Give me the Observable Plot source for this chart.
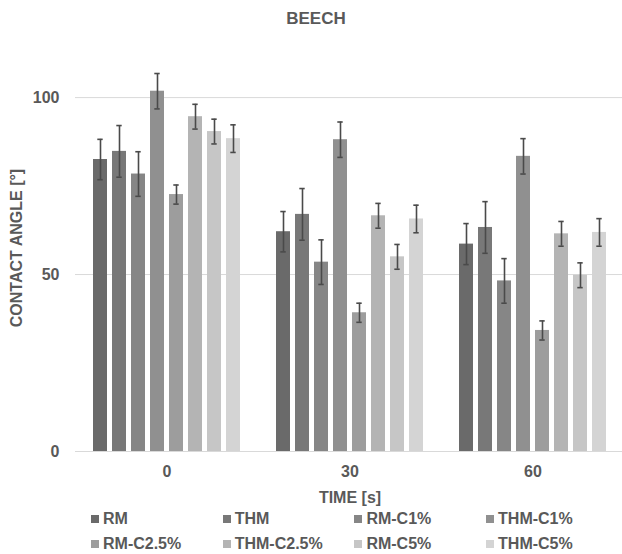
<!DOCTYPE html>
<html><head><meta charset="utf-8">
<script src="https://cdn.jsdelivr.net/npm/d3@7"></script>
<script src="https://cdn.jsdelivr.net/npm/@observablehq/plot@0.6"></script>
<style>
body{margin:0;background:#fff;font-family:"Liberation Sans",Arial,sans-serif;color:#595959;}
#wrap{position:relative;width:622px;height:554px;overflow:hidden;}
#title{height:38px;line-height:38px;font-size:17px;font-weight:bold;text-align:center;padding-left:10px;}
#chart svg{display:block;overflow:visible;}
#legend{position:absolute;left:91px;top:506px;display:grid;grid-template-columns:repeat(4,131.7px);}
.item{height:25px;line-height:25px;font-size:16px;font-weight:bold;white-space:nowrap;}
.sw{display:inline-block;width:8px;height:8px;margin-right:4px;vertical-align:middle;position:relative;top:-1px;}
</style></head>
<body>
<div id="wrap">
<div id="title">BEECH</div>
<div id="chart"></div>
<div id="legend"></div>
</div>
<script>
const series = ["RM","THM","RM-C1%","THM-C1%","RM-C2.5%","THM-C2.5%","RM-C5%","THM-C5%"];
const times = ["0","30","60"];
const values0  = [82.5, 84.8, 78.4, 101.8, 72.6, 94.6, 90.4, 88.4];
const values30 = [62.1, 67.0, 53.5, 88.1, 39.2, 66.6, 55.0, 65.7];
const values60 = [58.6, 63.3, 48.2, 83.4, 34.2, 61.5, 49.8, 61.9];
const errors0  = [5.7, 7.3, 6.3, 5.0, 2.7, 3.5, 3.5, 3.9];
const errors30 = [5.7, 7.3, 6.3, 5.0, 2.7, 3.5, 3.5, 3.9];
const errors60 = [5.8, 7.3, 6.3, 5.0, 2.7, 3.5, 3.5, 3.9];
const yTicks = [0, 50, 100];
const colors = ["#6a6a6a","#787878","#868686","#909090","#9d9d9d","#b4b4b4","#c6c6c6","#d4d4d4"];

const valueSets = [values0, values30, values60];
const errorSets = [errors0, errors30, errors60];
const data = [];
times.forEach((t, i) => series.forEach((s, j) => {
  data.push({time: t, series: s, value: valueSets[i][j], err: errorSets[i][j]});
}));

const chart = Plot.plot({
  width: 622,
  height: 470,
  marginLeft: 74,
  marginRight: -3,
  marginTop: 6,
  marginBottom: 57,
  style: {fontFamily: "'Liberation Sans', Arial, sans-serif", fontSize: "16px", fontWeight: "bold", color: "#595959", background: "transparent"},
  fx: {domain: times, padding: 0},
  x: {domain: series, paddingInner: 0.243, paddingOuter: 0.8, axis: null},
  y: {domain: [0, 115]},
  color: {domain: series, range: colors},
  marks: [
    Plot.gridY(yTicks, {stroke: "#d9d9d9", strokeOpacity: 1, strokeWidth: 1}),
    Plot.ruleY([0], {stroke: "#d9d9d9", strokeWidth: 1.2}),
    Plot.barY(data, {fx: "time", x: "series", y: "value", fill: "series"}),
    Plot.ruleX(data, {fx: "time", x: "series", y1: d => d.value - d.err, y2: d => d.value + d.err, stroke: "#4a4a4a", strokeWidth: 1.6}),
    Plot.tickY(data, {fx: "time", x: "series", y: d => d.value - d.err, stroke: "#4a4a4a", strokeWidth: 1.6, insetLeft: 4.3, insetRight: 4.3}),
    Plot.tickY(data, {fx: "time", x: "series", y: d => d.value + d.err, stroke: "#4a4a4a", strokeWidth: 1.6, insetLeft: 4.3, insetRight: 4.3}),
    Plot.axisY(yTicks, {tickSize: 0, tickPadding: 16, label: "CONTACT ANGLE [°]", labelArrow: "none", labelAnchor: "center", labelOffset: 65, fontSize: 16}),
    Plot.axisFx({anchor: "bottom", tickSize: 0, tickPadding: 14, label: "TIME [s]", labelArrow: "none", labelAnchor: "center", labelOffset: 51})
  ]
});
document.getElementById("chart").appendChild(chart);

const legend = document.getElementById("legend");
series.forEach((s, j) => {
  const item = document.createElement("div");
  item.className = "item";
  const sw = document.createElement("span");
  sw.className = "sw";
  sw.style.background = colors[j];
  item.appendChild(sw);
  item.appendChild(document.createTextNode(s));
  legend.appendChild(item);
});
</script>
</body></html>
